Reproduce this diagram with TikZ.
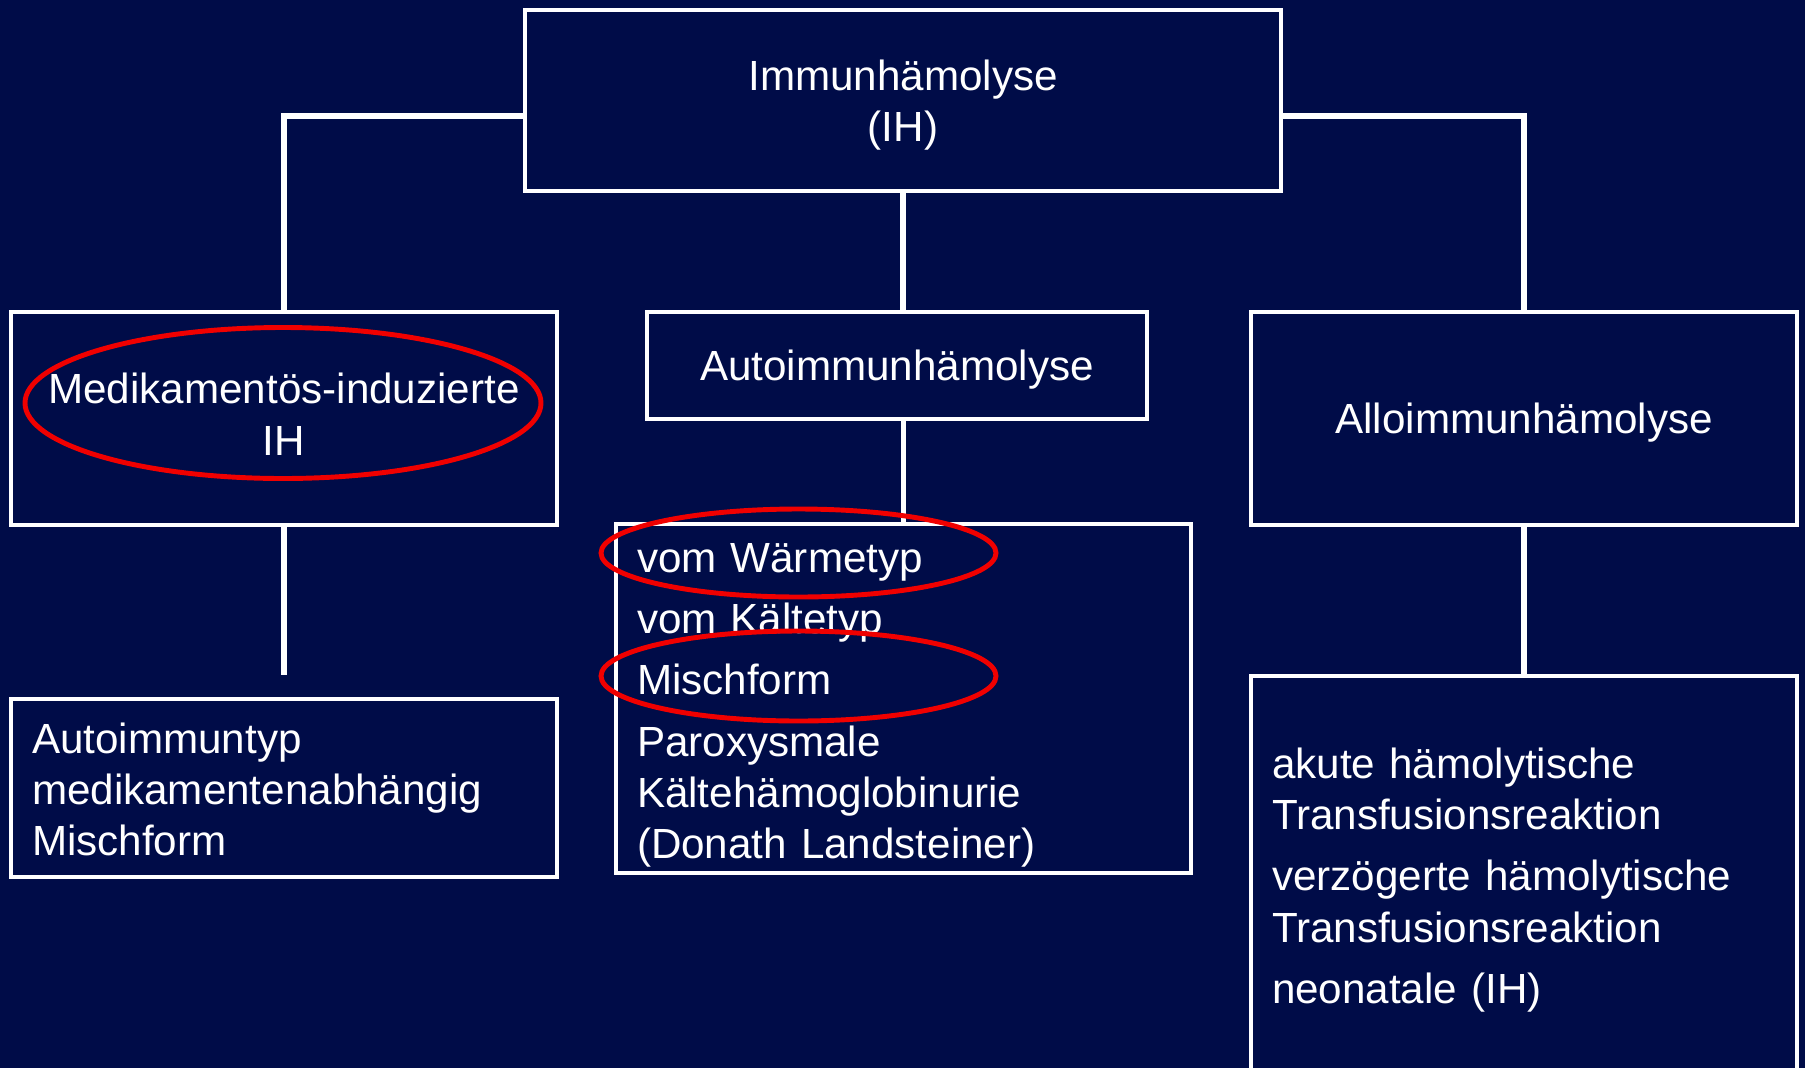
\documentclass[tikz,border=0pt]{standalone}
\usepackage{fontspec}
\setmainfont{Liberation Sans}
\usepackage{tikz}
\usetikzlibrary{shapes.geometric,positioning}
\definecolor{navy}{RGB}{0,12,72}
\definecolor{ringred}{RGB}{240,0,0}

\begin{document}
\begin{tikzpicture}[
  box/.style={rectangle, draw=white, line width=1.2pt, text=white, align=center, inner sep=0pt, font=\fontsize{12}{14.6}\selectfont},
  listbox/.style={box, align=left, inner xsep=0.21cm, text width=#1},
  link/.style={draw=white, line width=1.5pt},
  ring/.style={ellipse, draw=ringred, line width=1.4pt, inner sep=0pt}
]
\path[use as bounding box, fill=navy] (0,0) rectangle (18.05,-10.68);
\node[box, minimum width=7.56cm, minimum height=1.81cm, text depth=0pt] (ih) at (9.03,-1.005) {Immunhämolyse\\(IH)};
\node[box, minimum width=5.46cm, minimum height=2.13cm, text depth=2.5pt] (med) at (2.84,-4.185) {Medikamentös-induzierte\\IH};
\node[box, minimum width=5.00cm, minimum height=1.07cm, text depth=0pt] (aih) at (8.97,-3.655) {Autoimmunhämolyse};
\node[box, minimum width=5.46cm, minimum height=2.13cm, text depth=0pt] (alloih) at (15.24,-4.185) {Alloimmunhämolyse};
\node[listbox=5.04cm, minimum height=1.78cm, text height=9.4pt, below=1.70cm of med] (medtypes) {Autoimmuntyp\\medikamentenabhängig\\Mischform};
\node[listbox=5.33cm, minimum height=3.49cm, text height=12.2pt] (aihtypes) at (9.035,-6.985) {vom Wärmetyp\\[1mm]vom Kältetyp\\[1mm]Mischform\\[1mm]Paroxysmale\\Kältehämoglobinurie\\(Donath Landsteiner)};
\node[listbox=5.04cm, minimum height=3.98cm, text height=11.4pt, below=1.47cm of alloih] (allotypes) {akute hämolytische\\Transfusionsreaktion\\[1mm]verzögerte hämolytische\\Transfusionsreaktion\\[1mm]neonatale (IH)};
\coordinate[below=1.48cm of med.south] (medend);
\draw[link] ([yshift=-0.155cm]ih.west) -| (med.north);
\draw[link] ([yshift=-0.155cm]ih.east) -| (alloih.north);
\draw[link] (ih.south) -- (ih.south |- aih.north);
\draw[link] (aihtypes.north |- aih.south) -- (aihtypes.north);
\draw[link] (med.south) -- (medend);
\draw[link] (alloih.south) -- (allotypes.north);
% red marks
\node[ring, minimum width=5.16cm, minimum height=1.51cm] (medring) at (2.83,-4.03) {};
\node[ring, minimum width=3.95cm, minimum height=0.88cm] (warmring) at (7.985,-5.53) {};
\node[ring, minimum width=3.95cm, minimum height=0.90cm] (mixring) at (7.985,-6.76) {};
\end{tikzpicture}
\end{document}
